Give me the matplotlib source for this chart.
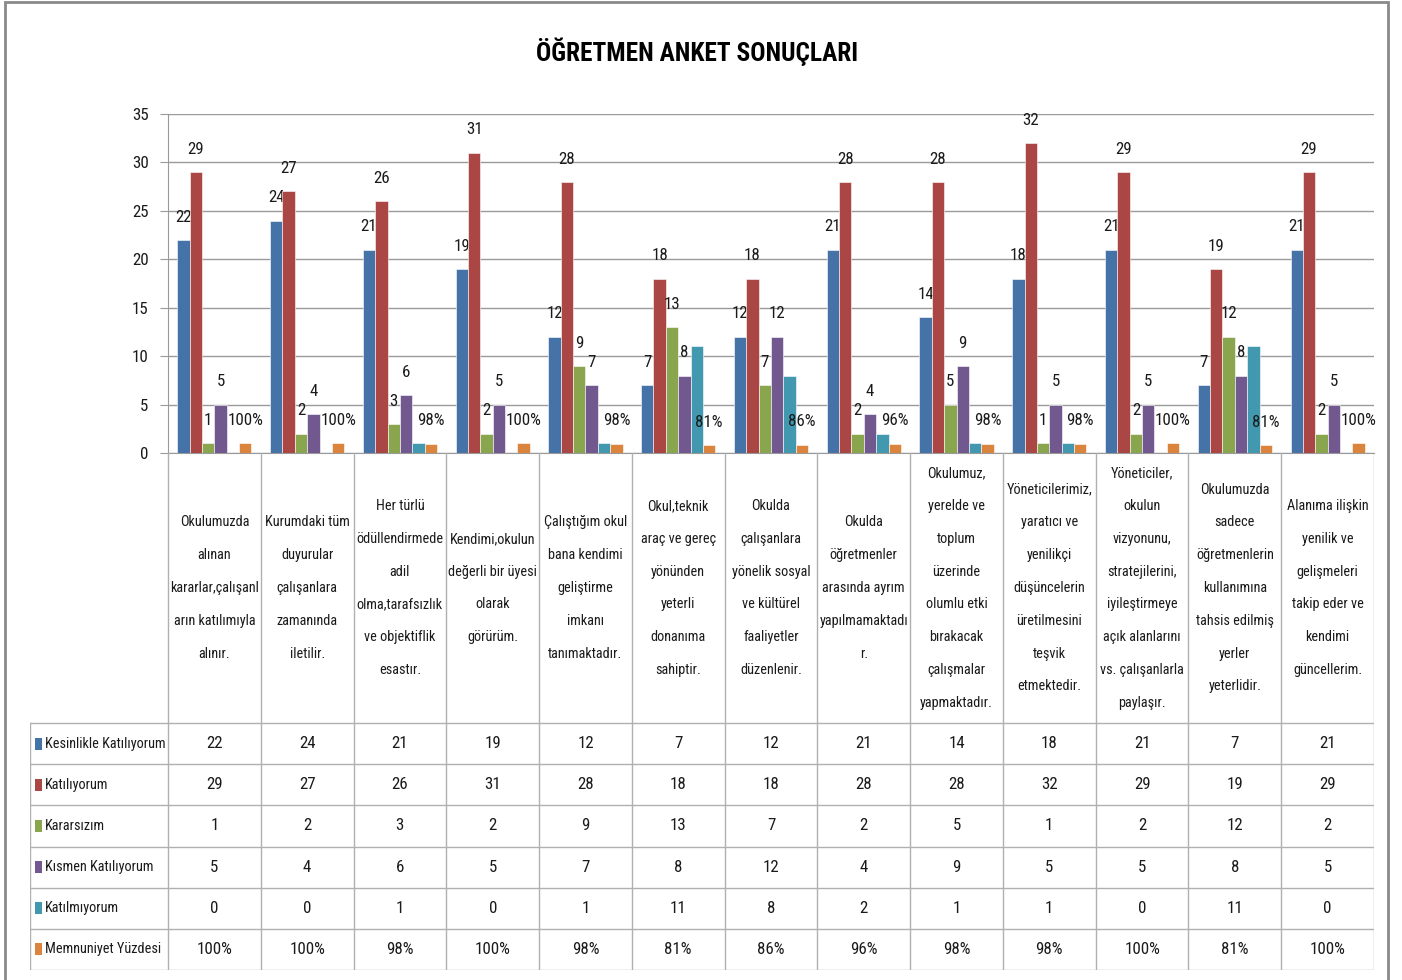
import numpy as np
import matplotlib
matplotlib.use("Agg")
import matplotlib.pyplot as plt
from matplotlib import font_manager as fm
from matplotlib.patches import Rectangle

# ----------------------------
# Pick a narrow sans font if one is installed (the chart uses a condensed face)
# ----------------------------

pref_names = ["Liberation Sans Narrow", "Roboto Condensed", "Open Sans Condensed",
              "Noto Sans", "DejaVu Sans", "Open Sans", "Roboto", "Inter", "Lato"]
pref_stretch = ["condensed", "semi-condensed", "extra-condensed"]
best = None
for f in fm.fontManager.ttflist:
    if f.style != "normal":
        continue
    narrow = ("Narrow" in f.name or "Condensed" in f.name
              or f.stretch in pref_stretch)
    if not narrow:
        continue
    rank = (pref_names.index(f.name) if f.name in pref_names else 50,
            pref_stretch.index(f.stretch) if f.stretch in pref_stretch else 0)
    if best is None or rank < best[0]:
        best = (rank, f)

if best is not None:
    plt.rcParams['font.family'] = [best[1].name, 'DejaVu Sans']
    plt.rcParams['font.stretch'] = best[1].stretch
else:
    plt.rcParams['font.family'] = ['DejaVu Sans']

# ----------------------------
# Data
# ----------------------------

categories = [
    "Okulumuzda\nalınan\nkararlar,çalışanl\narın katılımıyla\nalınır.",
    "Kurumdaki tüm\nduyurular\nçalışanlara\nzamanında\niletilir.",
    "Her türlü\nödüllendirmede\nadil\nolma,tarafsızlık\nve objektiflik\nesastır.",
    "Kendimi,okulun\ndeğerli bir üyesi\nolarak\ngörürüm.",
    "Çalıştığım okul\nbana kendimi\ngeliştirme\nimkanı\ntanımaktadır.",
    "Okul,teknik\naraç ve gereç\nyönünden\nyeterli\ndonanıma\nsahiptir.",
    "Okulda\nçalışanlara\nyönelik sosyal\nve kültürel\nfaaliyetler\ndüzenlenir.",
    "Okulda\nöğretmenler\narasında ayrım\nyapılmamaktadı\nr.",
    "Okulumuz,\nyerelde ve\ntoplum\nüzerinde\nolumlu etki\nbırakacak\nçalışmalar\nyapmaktadır.",
    "Yöneticilerimiz,\nyaratıcı ve\nyenilikçi\ndüşüncelerin\nüretilmesini\nteşvik\netmektedir.",
    "Yöneticiler,\nokulun\nvizyonunu,\nstratejilerini,\niyileştirmeye\naçık alanlarını\nvs. çalışanlarla\npaylaşır.",
    "Okulumuzda\nsadece\nöğretmenlerin\nkullanımına\ntahsis edilmiş\nyerler\nyeterlidir.",
    "Alanıma ilişkin\nyenilik ve\ngelişmeleri\ntakip eder ve\nkendimi\ngüncellerim.",
]

series_names = [
    "Kesinlikle Katılıyorum",
    "Katılıyorum",
    "Kararsızım",
    "Kısmen Katılıyorum",
    "Katılmıyorum",
    "Memnuniyet Yüzdesi",
]

kesinlikle = [22, 24, 21, 19, 12, 7, 12, 21, 14, 18, 21, 7, 21]
katiliyorum = [29, 27, 26, 31, 28, 18, 18, 28, 28, 32, 29, 19, 29]
kararsizim = [1, 2, 3, 2, 9, 13, 7, 2, 5, 1, 2, 12, 2]
kismen = [5, 4, 6, 5, 7, 8, 12, 4, 9, 5, 5, 8, 5]
katilmiyorum = [0, 0, 1, 0, 1, 11, 8, 2, 1, 1, 0, 11, 0]
memnuniyet = [100, 100, 98, 100, 98, 81, 86, 96, 98, 98, 100, 81, 100]

title = "ÖĞRETMEN ANKET SONUÇLARI"

colors = ["#4572A7", "#AA4643", "#89A54E", "#71588F", "#4198AF", "#DB843D"]

# ----------------------------
# Layout (pixels)
# ----------------------------

W, H = 1402, 980
plot_l, plot_r, plot_t, plot_b = 168, 1374, 114, 453
table_l, table_b = 30, 970
cat_row_h = 270
cat_line_step = 32.8
grid_col = "#9a9a9a"
line_col = "#b0b0b0"
txt_col = "#1a1a1a"

fig = plt.figure(figsize=(W / 100, H / 100), dpi=100)
renderer = fig.canvas.get_renderer()


def fit_size(text, target_px, size=14, **kw):
    t = fig.text(0, 0, text, fontsize=size, **kw)
    w = t.get_window_extent(renderer).width
    t.remove()
    return size * target_px / w


fs = fit_size("Kesinlikle Katılıyorum", 122)
fs_num = fs * 1.18  # numbers are narrow, so they can be a bit taller
fs_title = fit_size(title, 323, size=24, fontweight="bold")

ax = fig.add_axes([plot_l / W, 1 - plot_b / H,
                   (plot_r - plot_l) / W, (plot_b - plot_t) / H])

n = len(categories)
x = np.arange(n)
width = 0.8 / 6

values = [kesinlikle, katiliyorum, kararsizim, kismen, katilmiyorum,
          [p / 100 for p in memnuniyet]]

for k, vals in enumerate(values):
    bars = ax.bar(x + (k - 2.5) * width, vals, width, color=colors[k],
                  edgecolor="white", linewidth=0.4, zorder=3)
    if k == 4:
        continue  # labels of this series are hidden in the original
    if k == 5:
        labels = [f"{p}%" for p in memnuniyet]
    else:
        labels = [str(v) for v in vals]
    ax.bar_label(bars, labels=labels, padding=11, fontsize=fs_num, color=txt_col)

ax.set_xlim(-0.5, n - 0.5)
ax.set_ylim(0, 35)
ax.set_yticks(range(0, 36, 5))
ax.set_xticks([])
ax.tick_params(axis="y", length=6, color=grid_col, labelsize=fs_num,
               labelcolor=txt_col, pad=8)
ax.grid(axis="y", color=grid_col, linewidth=1, zorder=0)
ax.set_axisbelow(True)
for s in ["top", "right"]:
    ax.spines[s].set_visible(False)
for s in ["left", "bottom"]:
    ax.spines[s].set_color(grid_col)

# ----------------------------
# Data table
# ----------------------------

colw = (plot_r - plot_l) / n
tax = fig.add_axes([table_l / W, 1 - table_b / H,
                    (plot_r - table_l) / W, (table_b - plot_b) / H])
x_left = -0.5 - (plot_l - table_l) / colw
total_h = table_b - plot_b
row_h = (total_h - cat_row_h) / 6
tax.set_xlim(x_left, n - 0.5)
tax.set_ylim(total_h, 0)
tax.axis("off")

for i in range(n + 1):
    tax.plot([i - 0.5, i - 0.5], [0, total_h], color=line_col, lw=1)
tax.plot([x_left, x_left], [cat_row_h, total_h], color=line_col, lw=1)
for r in range(7):
    y = cat_row_h + r * row_h
    tax.plot([x_left, n - 0.5], [y, y], color=line_col, lw=1)

for i, cat in enumerate(categories):
    lines = cat.split("\n")
    for j, line in enumerate(lines):
        y = cat_row_h / 2 + (j - (len(lines) - 1) / 2) * cat_line_step
        tax.text(i, y, line, ha="center", va="center",
                 fontsize=fs, color=txt_col)

table_rows = [kesinlikle, katiliyorum, kararsizim, kismen, katilmiyorum,
              [f"{p}%" for p in memnuniyet]]
px_unit = (n - 0.5 - x_left) / (plot_r - table_l)
for r, (name, row) in enumerate(zip(series_names, table_rows)):
    yc = cat_row_h + (r + 0.5) * row_h
    tax.add_patch(Rectangle((x_left + 5 * px_unit, yc - 6), 7 * px_unit, 12,
                            color=colors[r], lw=0))
    tax.text(x_left + 15 * px_unit, yc, name, ha="left", va="center",
             fontsize=fs, color=txt_col)
    for i, v in enumerate(row):
        tax.text(i, yc, str(v), ha="center", va="center",
                 fontsize=fs_num, color=txt_col)

# ----------------------------
# Title and frame
# ----------------------------

fig.text(697 / W, 1 - 52 / H, title, ha="center", va="center",
         fontsize=fs_title, fontweight="bold", color="black")

fig.patches.append(Rectangle((5 / W, -0.01), (1388 - 5) / W, 1 - 2 / H + 0.01,
                             transform=fig.transFigure, fill=False,
                             edgecolor="#8a8a8a", lw=2))

fig.savefig("out.png", dpi=100)
